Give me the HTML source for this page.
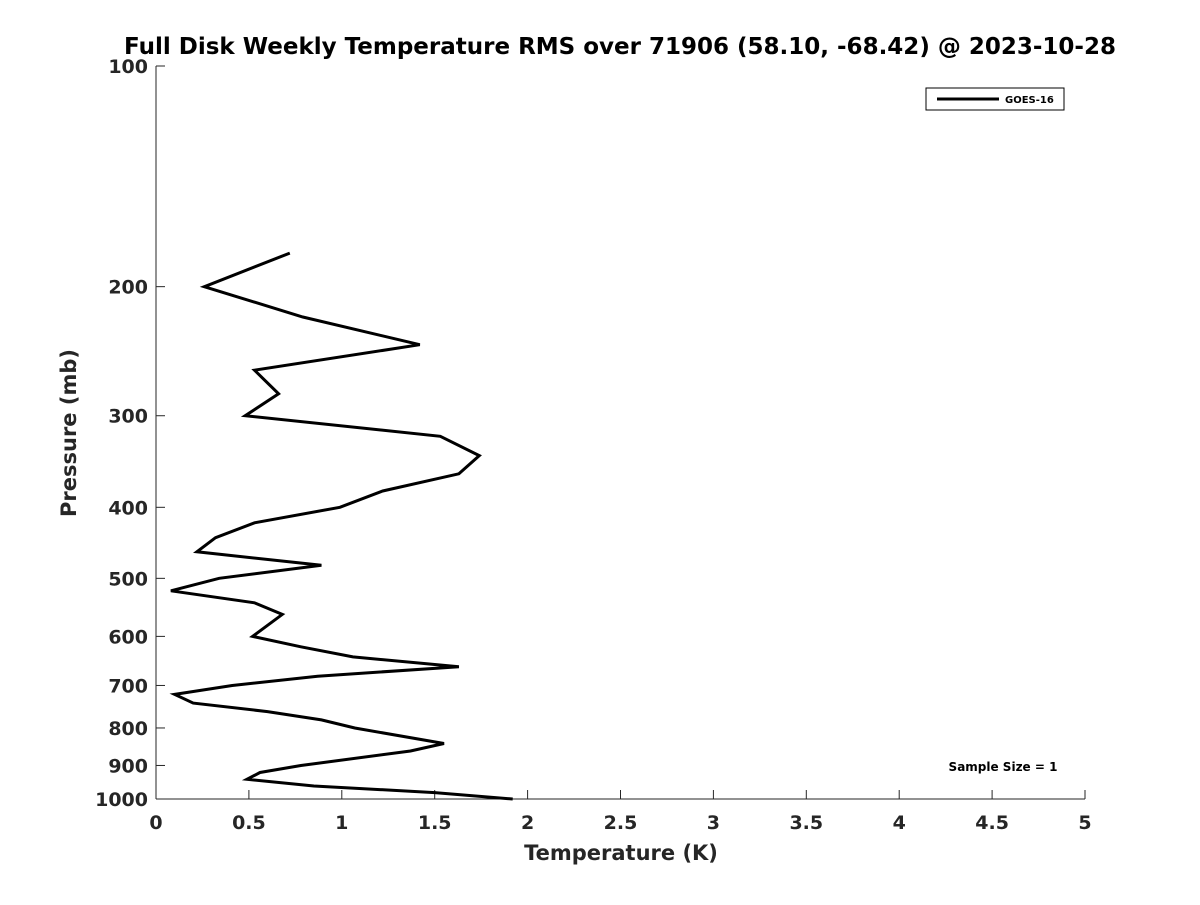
<!DOCTYPE html>
<html><head><meta charset="utf-8"><style>
body{margin:0;background:#fff;}
svg text{font-family:"DejaVu Sans","Liberation Sans",sans-serif;font-weight:bold;fill:#262626;}
</style></head><body>
<svg id="chart" width="1200" height="900">
<text x="620" y="54" text-anchor="middle" font-size="23" fill="#000" style="fill:#000">Full Disk Weekly Temperature RMS over 71906 (58.10, -68.42) @ 2023-10-28</text>
<g id="axes"></g>
<g id="series"></g>
<g>
<rect x="926" y="88" width="138" height="22" fill="#fff" stroke="#000" stroke-width="1"/>
<line x1="937" y1="99" x2="999" y2="99" stroke="#000" stroke-width="3"/>
<text x="1005" y="103" font-size="10" style="fill:#000">GOES-16</text>
</g>
<text x="1003" y="771" font-size="12" text-anchor="middle" style="fill:#000">Sample Size = 1</text>
<text x="621" y="860" font-size="21" text-anchor="middle">Temperature (K)</text>
<text x="0" y="0" font-size="21" text-anchor="middle" transform="translate(76,433) rotate(-90)">Pressure (mb)</text>
</svg>
<script>
const pressures=[180,200,220,240,260,280,300,320,340,360,380,400,420,440,460,480,500,520,540,560,600,620,640,660,680,700,720,740,760,780,800,840,860,900,920,940,960,980,1000];
const rmsValues=[0.72,0.26,0.79,1.42,0.53,0.66,0.48,1.53,1.74,1.63,1.22,0.99,0.53,0.32,0.22,0.89,0.34,0.08,0.53,0.68,0.52,0.78,1.06,1.63,0.87,0.41,0.10,0.20,0.60,0.89,1.07,1.55,1.37,0.78,0.56,0.49,0.85,1.50,1.92];
const xTicks=[0,0.5,1,1.5,2,2.5,3,3.5,4,4.5,5];
const yTicks=[100,200,300,400,500,600,700,800,900,1000];
const NS="http://www.w3.org/2000/svg";
const X0=156,X1=1085,Y0=66,Y1=799;
function xs(v){return X0+(v/5)*(X1-X0);}
function ys(p){return Y0+(Math.log10(p)-2)*(Y1-Y0);}
function mk(t,a,parent){const e=document.createElementNS(NS,t);for(const k in a)e.setAttribute(k,a[k]);parent.appendChild(e);return e;}
const ax=document.getElementById('axes');
let l=mk('line',{x1:X0,y1:Y0,x2:X0,y2:Y1,stroke:'#262626','stroke-width':1},ax);


l=mk('line',{x1:X0,y1:Y1,x2:X1,y2:Y1,stroke:'#262626','stroke-width':1},ax);


xTicks.forEach(v=>{
 const t=mk('line',{x1:xs(v),y1:Y1,x2:xs(v),y2:Y1-9,stroke:'#262626'},ax);
 
 
 const tx=mk('text',{x:xs(v),y:Y1+30,'font-size':19,'text-anchor':'middle'},ax);
 tx.textContent=String(v);
 
 
});
yTicks.forEach(p=>{
 const t=mk('line',{x1:X0,y1:ys(p),x2:X0+9,y2:ys(p),stroke:'#262626'},ax);
 
 
 const tx=mk('text',{x:X0-8,y:ys(p)+7,'font-size':19,'text-anchor':'end'},ax);
 tx.textContent=String(p);
 
 
});
const pts=pressures.map((p,i)=>xs(rmsValues[i]).toFixed(1)+','+ys(p).toFixed(1)).join(' ');
const pl=mk('polyline',{points:pts,fill:'none',stroke:'#000','stroke-width':3,'stroke-linejoin':'miter'},document.getElementById('series'));


</script>
</body></html>
